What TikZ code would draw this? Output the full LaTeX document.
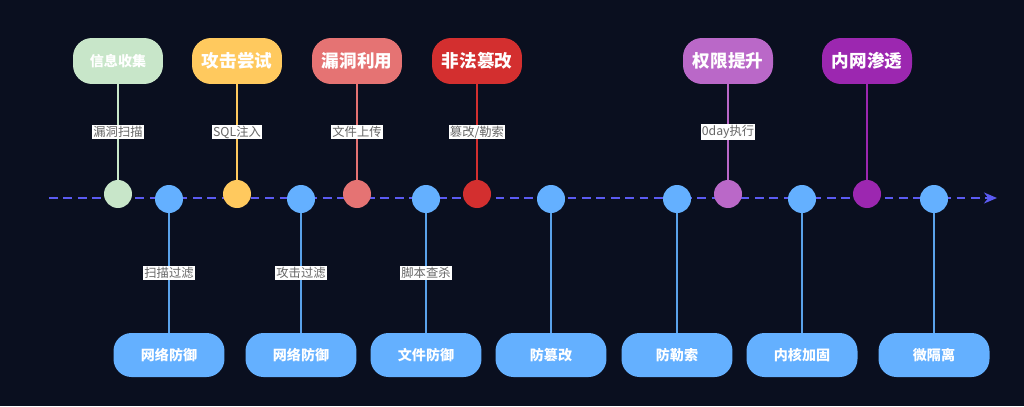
\documentclass[tikz,border=0pt]{standalone}
\usepackage{fontspec}
\setmainfont{Noto Sans CJK SC}
\usetikzlibrary{arrows.meta, calc}
\definecolor{bgnavy}{HTML}{0A0F1F}
\definecolor{axisblue}{HTML}{5B5BF2}
\definecolor{defblue}{HTML}{64B0FF}
\definecolor{defline}{HTML}{5AA2EA}
\definecolor{recon}{HTML}{C8E6C9}
\definecolor{probe}{HTML}{FFC95E}
\definecolor{exploit}{HTML}{E57373}
\definecolor{tamper}{HTML}{D32F2F}
\definecolor{privesc}{HTML}{BA68C8}
\definecolor{lateral}{HTML}{9C27B0}

\begin{document}
\begin{tikzpicture}[x=0.02cm, y=-0.02cm,
        stage/.style={rounded corners=0.38cm, minimum width=1.8cm, minimum height=0.92cm, inner sep=0pt, text=white},
        defbox/.style={rounded corners=0.36cm, fill=defblue, minimum width=2.22cm, minimum height=0.88cm, inner sep=0pt, text=white, font=\bfseries\fontsize{8}{8}\selectfont},
        dot/.style={circle, minimum size=0.56cm, inner sep=0pt},
        tag/.style={fill=white, text=black!60, inner sep=0.6pt, font=\fontsize{7}{7}\selectfont},
        link/.style={line width=0.9pt},
    ]
        \fill[bgnavy] (0,0) rectangle (1024,406);
        % timeline
        \coordinate (axisL) at (49,198);
        \coordinate (axisR) at (997,198);
        \draw[axisblue, line width=1.2pt, dash pattern=on 5pt off 3.2pt, -{Stealth[length=2.6mm, width=2.2mm]}] (axisL) -- (axisR);
        % attack stages
        \foreach \i/\x/\txt/\col/\fs in {1/118/信息收集/recon/8, 2/237/攻击尝试/probe/10, 3/357/漏洞利用/exploit/10, 4/477/非法篡改/tamper/10, 5/728/权限提升/privesc/10, 6/867/内网渗透/lateral/10} {
            \node[stage, fill=\col, font=\bfseries\fontsize{\fs}{\fs}\selectfont] (atk\i) at (\x,61) {\txt};
            \node[dot, fill=\col] (hit\i) at (\x,194) {};
            \draw[link, \col] (atk\i) -- (hit\i);
        }
        \foreach \i/\lab in {1/漏洞扫描, 2/SQL注入, 3/文件上传, 4/{篡改/勒索}, 5/0day执行} {
            \path (atk\i) -- (hit\i) node[midway, tag] {\lab};
        }
        % defences
        \foreach \i/\x/\txt in {1/169/网络防御, 2/301/网络防御, 3/426/文件防御, 4/551/防篡改, 5/677/防勒索, 6/802/内核加固, 7/934/微隔离} {
            \node[dot, fill=defblue] (blk\i) at (\x,199) {};
            \node[defbox] (def\i) at (\x,355) {\txt};
            \draw[link, defline] (blk\i) -- (def\i);
        }
        \foreach \i/\lab in {1/扫描过滤, 2/攻击过滤, 3/脚本查杀} {
            \path (blk\i) -- (def\i) node[midway, tag] {\lab};
        }
    \end{tikzpicture}
\end{document}
